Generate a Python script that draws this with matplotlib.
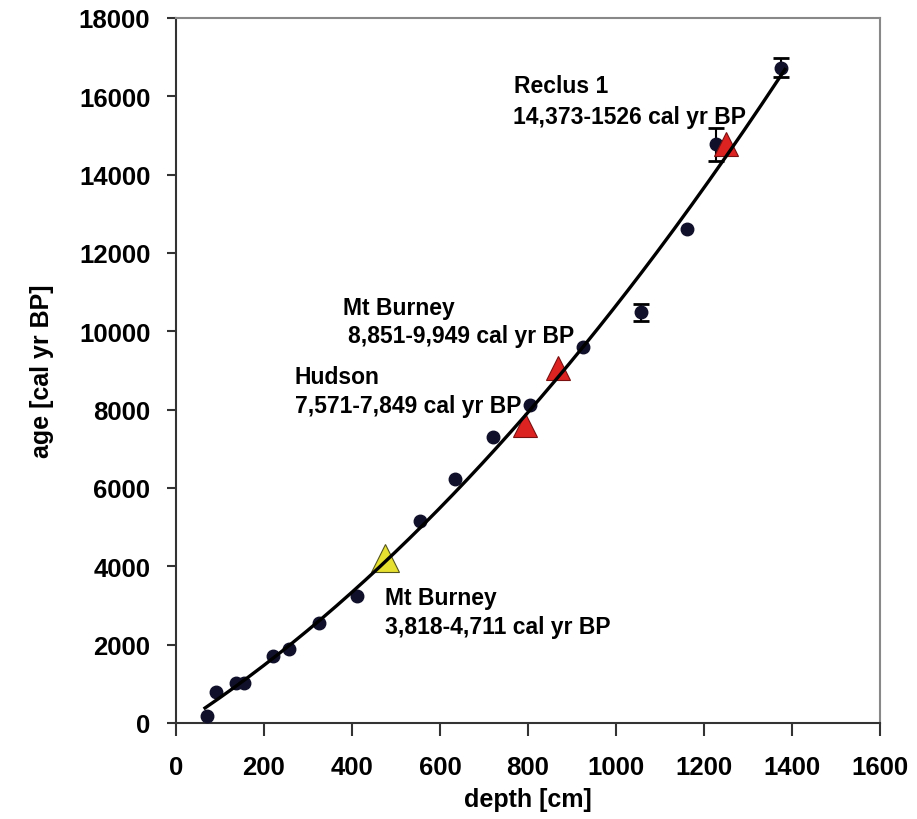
import matplotlib.pyplot as plt
import numpy as np

# dated samples (black dots)
depth = [70, 92, 136, 155, 221, 258, 326, 412, 555, 634, 721, 805, 926, 1058, 1162, 1227, 1376]
age = [170, 780, 1010, 1030, 1720, 1890, 2550, 3250, 5150, 6220, 7290, 8110, 9590, 10480, 12620, 14770, 16730]
age_err = [0, 0, 0, 0, 0, 0, 0, 0, 0, 0, 0, 0, 0, 210, 0, 420, 250]

# tephra layers
red_depth = [793, 869, 1251]
red_age = [7610, 9055, 14780]
yellow_depth = [475]
yellow_age = [4210]

xticks = [0, 200, 400, 600, 800, 1000, 1200, 1400, 1600]
yticks = [0, 2000, 4000, 6000, 8000, 10000, 12000, 14000, 16000, 18000]

# label text: (name, range, x, y, x2, y2)
labels = [
    ("Reclus 1", "14,373-1526 cal yr BP", 768, 16110, 766, 15318),
    ("Mt Burney", "8,851-9,949 cal yr BP", 380, 10440, 391, 9725),
    ("Hudson", "7,571-7,849 cal yr BP", 270, 8678, 270, 7938),
    ("Mt Burney", "3,818-4,711 cal yr BP", 475, 3036, 475, 2297),
]

plt.rcParams['font.family'] = ['Liberation Sans', 'DejaVu Sans']
plt.rcParams['font.weight'] = 'bold'

fig = plt.figure(figsize=(9.17, 8.2), dpi=100)
ax = fig.add_axes([0.1919, 0.1171, 0.7677, 0.8598])

# second order trend line through the dated samples
coef = np.polyfit(depth, age, 2)
xs = np.linspace(66, 1384, 200)
ax.plot(xs, np.polyval(coef, xs), color='black', lw=2.4, zorder=5)

ax.plot(depth, age, 'o', color='#10102a', ms=9, zorder=3)
idx = [i for i, e in enumerate(age_err) if e > 0]
ax.errorbar([depth[i] for i in idx], [age[i] for i in idx],
            yerr=[age_err[i] for i in idx], fmt='none', ecolor='black',
            elinewidth=1.5, capsize=6, capthick=2, zorder=2)

ax.plot(red_depth, red_age, '^', color='#dd2222', mec='#7a1010', mew=0.8, ms=17, zorder=4)
ax.plot(yellow_depth, yellow_age, '^', color='#e6e030', mec='#555520', mew=0.8, ms=20, zorder=4)

for name, rng, x1, y1, x2, y2 in labels:
    ax.text(x1, y1, name, fontsize=16.5, fontweight='bold', ha='left', va='baseline')
    ax.text(x2, y2, rng, fontsize=16.5, ha='left', va='baseline')

ax.set_xlim(0, 1600)
ax.set_ylim(0, 18000)
ax.set_xticks(xticks)
ax.set_yticks(yticks)
ax.tick_params(labelsize=18.5, width=1.5, color='#333333')
ax.tick_params(axis='x', length=9, pad=14)
ax.tick_params(axis='y', length=6.5, pad=12)
for s in ['left', 'bottom']:
    ax.spines[s].set_color('#333333')
    ax.spines[s].set_linewidth(1.5)
for s in ['top', 'right']:
    ax.spines[s].set_color('#888888')
    ax.spines[s].set_linewidth(1.5)

ax.set_xlabel('depth [cm]', fontsize=18, fontweight='bold', labelpad=6)
ax.set_ylabel('age [cal yr BP]', fontsize=18, fontweight='bold', labelpad=18)

fig.savefig('out.png', dpi=100)
